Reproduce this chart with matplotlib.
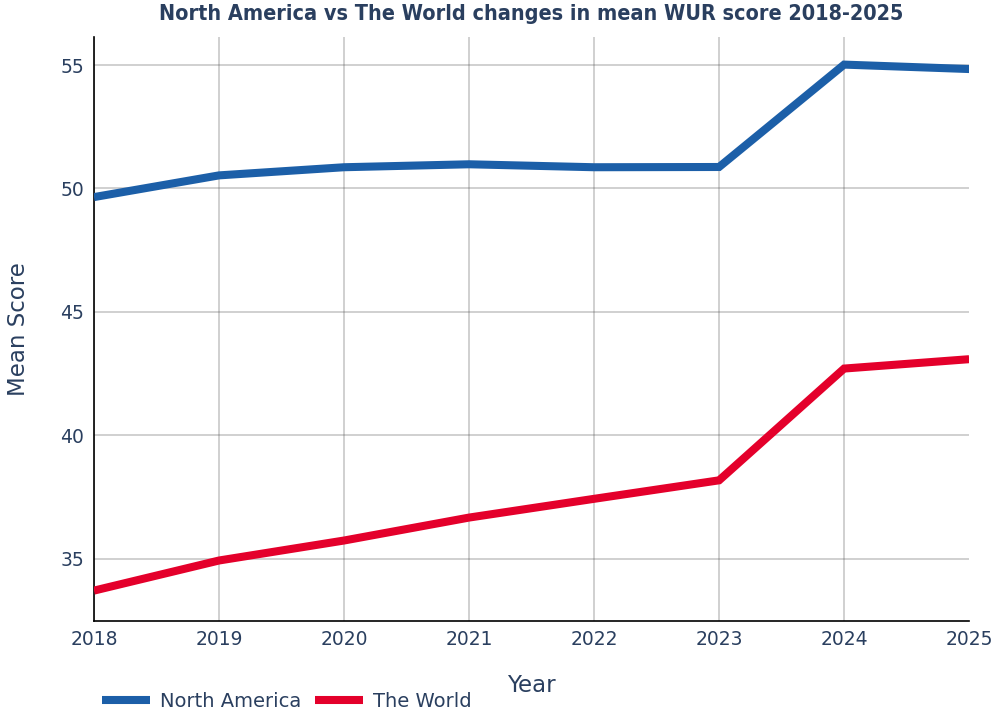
import matplotlib.pyplot as plt

years = [2018, 2019, 2020, 2021, 2022, 2023, 2024, 2025]
north_america = [49.65, 50.53, 50.86, 50.98, 50.86, 50.87, 55.02, 54.84]
the_world = [33.70, 34.92, 35.73, 36.66, 37.42, 38.17, 42.70, 43.08]

text_col = '#2a3f5f'
plt.rcParams['font.family'] = ['DejaVu Sans']

fig = plt.figure(figsize=(9.99, 7.11), dpi=100)
ax = fig.add_axes([0.0941, 0.127, 0.876, 0.821])

ax.plot(years, north_america, color='#1c5fa8', lw=5.8, label='North America',
        solid_capstyle='butt', solid_joinstyle='miter', zorder=3)
ax.plot(years, the_world, color='#e4002b', lw=5.8, label='The World',
        solid_capstyle='butt', solid_joinstyle='miter', zorder=3)

ax.set_xlim(2018, 2025)
ax.set_ylim(32.48, 56.14)
ax.set_xticks(years)
ax.set_yticks([35, 40, 45, 50, 55])
ax.grid(True, color='#555555', alpha=0.35, lw=1.1)
ax.get_xgridlines()[-1].set_visible(False)
ax.set_axisbelow(True)
for s in ['top', 'right']:
    ax.spines[s].set_visible(False)
for s in ['left', 'bottom']:
    ax.spines[s].set_color('black')
    ax.spines[s].set_linewidth(1.2)
ax.tick_params(length=0, labelsize=13.5, labelcolor=text_col, pad=7)
ax.set_xlabel('Year', fontsize=16.5, color=text_col, labelpad=18)
ax.set_ylabel('Mean Score', fontsize=16.5, color=text_col, labelpad=22)

fig.text(0.532, 0.981, 'North America vs The World changes in mean WUR score 2018-2025',
         ha='center', va='center', fontsize=15.5, fontweight='bold', color=text_col,
         fontstretch='condensed')

fig.legend(loc='center left', bbox_to_anchor=(0.094, 0.013), ncol=2, frameon=False,
           fontsize=14, handlelength=2.5, handletextpad=0.5, columnspacing=0.7,
           labelcolor=text_col, borderaxespad=0)

fig.savefig('out.png', dpi=100)
